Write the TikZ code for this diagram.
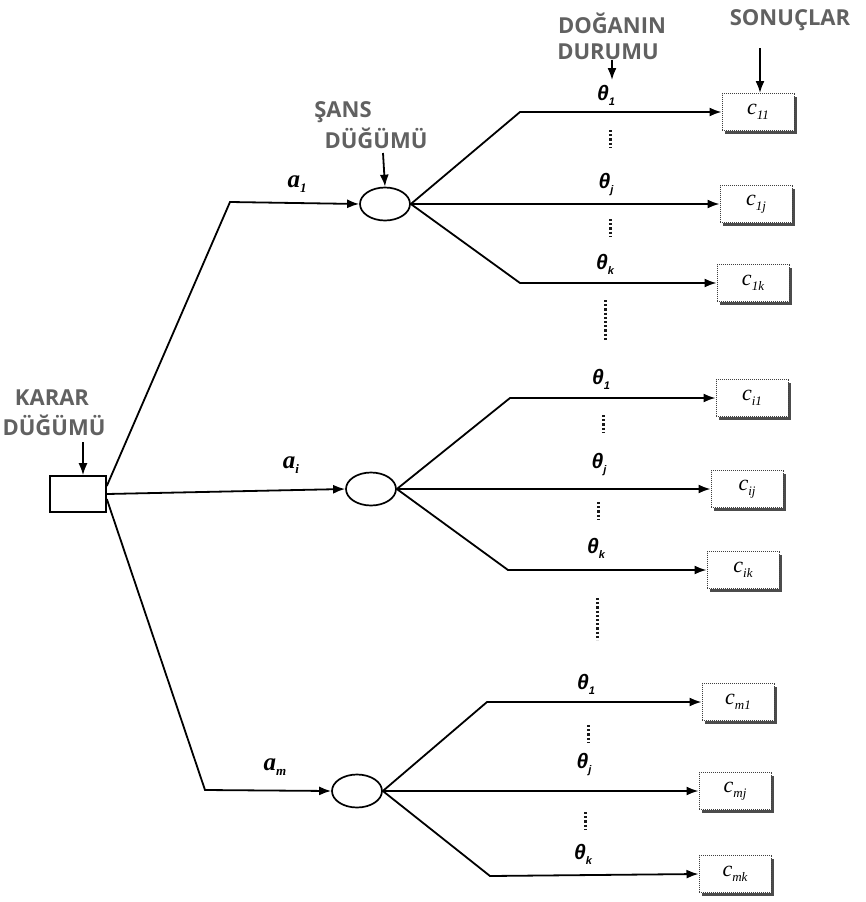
\documentclass[tikz,border=0pt]{standalone}
\usepackage{fontspec}
\setmainfont{Liberation Serif}
\newfontfamily\hdrfont{Open Sans}
\newfontfamily\thfont{Liberation Sans}
\usetikzlibrary{arrows.meta,shapes.geometric,shadows}
\newcommand{\thl}[1]{\thfont\bfseries\itshape\fontsize{21}{24}\selectfont θ\raisebox{-5pt}{\fontsize{11}{11}\selectfont #1}}
\newcommand{\cl}[1]{\itshape\fontsize{22}{24}\selectfont c\raisebox{-5pt}{\fontsize{13}{13}\selectfont #1}}
\newcommand{\al}[1]{\bfseries\itshape\fontsize{25}{27}\selectfont a\raisebox{-5pt}{\fontsize{13}{13}\selectfont #1}}
\begin{document}
\begin{tikzpicture}[x=1pt,y=-1pt,
  hdr/.style={font=\hdrfont\bfseries\fontsize{22}{25}\selectfont, text=black!62, inner sep=0pt},
  dec/.style={draw, line width=1.6pt, minimum width=56pt, minimum height=36pt, inner sep=0pt},
  chance/.style={ellipse, draw, line width=1.7pt, minimum width=50pt, minimum height=33pt, inner sep=0pt},
  res/.style={draw=black!75, densely dotted, line width=1pt, fill=white, minimum width=72pt, minimum height=37pt, inner sep=0pt,
     drop shadow={shadow xshift=3pt, shadow yshift=-3pt, fill=black!70, opacity=1}},
  ln/.style={line width=1.8pt},
  arr/.style={ln, -{Latex[length=12pt,width=9pt]}},
  dotsv/.style={line width=3pt, dash pattern=on 2.2pt off 2pt, black!90},
  lbl/.style={inner sep=0pt}
]
\useasboundingbox (0,0) rectangle (865,902);

% headers
\node[hdr] (h1) at (612,23) {DOĞANIN};
\node[hdr] (h2) at (608,52) {DURUMU};
\node[hdr] (h3) at (790,20) {SONUÇLAR};
\node[hdr] (h4) at (343,112) {ŞANS};
\node[hdr] (h5) at (376,138) {DÜĞÜMÜ};
\node[hdr] (h6) at (52,398) {KARAR};
\node[hdr] (h7) at (54,425) {DÜĞÜMÜ};

% decision node
\node[dec] (d) at (78,494) {};
% chance nodes
\node[chance] (c1) at (385,204) {};
\node[chance] (c2) at (371,489) {};
\node[chance] (c3) at (357,791) {};

% result nodes
\node[res] (r11) at (758,112) {\cl{11}};
\node[res] (r1j) at (756,204) {\cl{1j}};
\node[res] (r1k) at (753,283) {\cl{1k}};
\node[res] (ri1) at (752,398) {\cl{i1}};
\node[res] (rij) at (747,489) {\cl{ij}};
\node[res] (rik) at (743,570) {\cl{ik}};
\node[res] (rm1) at (738,702) {\cl{m1}};
\node[res] (rmj) at (735,791) {\cl{mj}};
\node[res] (rmk) at (735,874) {\cl{mk}};

% header arrows
\coordinate (ha1) at (612,60);
\coordinate (ha1e) at (612,80);
\draw[arr] (ha1) -- (ha1e);
\coordinate (ha3) at (760,48);
\draw[arr] (ha3) -- (r11.north -| ha3);
\coordinate (ha4) at (383,153);
\draw[arr] (ha4) -- (c1.north);
\coordinate (ha6) at (83,442);
\draw[arr] (ha6) -- (d.north -| ha6);

% root branches
\coordinate (b1) at (230,202);
\coordinate (b3) at (205,790);
\draw[arr] ([yshift=8pt]d.east) -- (b1) -- (c1.west);
\draw[arr] (d.east) -- (c2.west);
\draw[arr] ([yshift=-5pt]d.east) -- (b3) -- (c3.west);

\node[lbl] (a1) at (297,184) {\al{1}};
\node[lbl] (ai) at (291,465) {\al{i}};
\node[lbl] (am) at (275,767) {\al{m}};

% chance 1 branches
\coordinate (u1) at (520,112);
\coordinate (l1) at (520,283);
\draw[arr] (c1.east) -- (u1) -- (r11.west);
\draw[arr] (c1.east) -- (r1j.west);
\draw[arr] (c1.east) -- (l1) -- (r1k.west);
\node[lbl] (t11) at (606,95) {\thl{1}};
\node[lbl] (t1j) at (606,185) {\thl{j}};
\node[lbl] (t1k) at (605,264) {\thl{k}};
\draw[dotsv] (610,130) -- (610,148);
\draw[dotsv] (610,219) -- (610,237);
\draw[dotsv] (605,300) -- (605,341);

% chance 2 branches
\coordinate (u2) at (510,398);
\coordinate (l2) at (508,570);
\draw[arr] (c2.east) -- (u2) -- (ri1.west);
\draw[arr] (c2.east) -- (rij.west);
\draw[arr] (c2.east) -- (l2) -- (rik.west);
\node[lbl] (t21) at (601,379) {\thl{1}};
\node[lbl] (t2j) at (599,465) {\thl{j}};
\node[lbl] (t2k) at (596,548) {\thl{k}};
\draw[dotsv] (603,415) -- (603,433);
\draw[dotsv] (598,502) -- (598,520);
\draw[dotsv] (597,598) -- (597,640);

% chance 3 branches
\coordinate (u3) at (487,702);
\coordinate (l3) at (490,876);
\draw[arr] (c3.east) -- (u3) -- (rm1.west);
\draw[arr] (c3.east) -- (rmj.west);
\draw[arr] (c3.east) -- (l3) -- (rmk.west);
\node[lbl] (t31) at (586,684) {\thl{1}};
\node[lbl] (t3j) at (584,765) {\thl{j}};
\node[lbl] (t3k) at (583,854) {\thl{k}};
\draw[dotsv] (588,725) -- (588,743);
\draw[dotsv] (585,812) -- (585,830);
\end{tikzpicture}
\end{document}
